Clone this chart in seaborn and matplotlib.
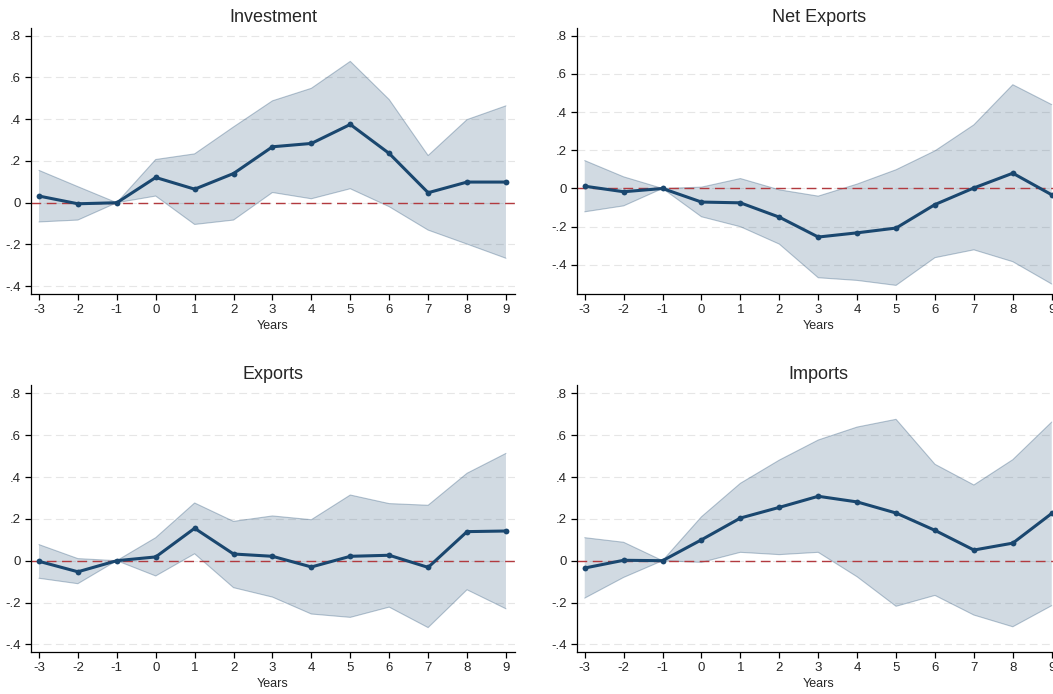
import numpy as np
import pandas as pd
import matplotlib
matplotlib.use("Agg")
import matplotlib.pyplot as plt
import seaborn as sns

# event-study estimates with confidence bands
years = [-3, -2, -1, 0, 1, 2, 3, 4, 5, 6, 7, 8, 9]

investment = [0.032, -0.005, 0.0, 0.121, 0.065, 0.140, 0.268, 0.284, 0.375, 0.236, 0.048, 0.099, 0.099]
investment_hi = [0.155, 0.077, 0.0, 0.207, 0.234, 0.363, 0.488, 0.548, 0.677, 0.494, 0.226, 0.398, 0.464]
investment_lo = [-0.092, -0.083, 0.0, 0.032, -0.104, -0.083, 0.049, 0.019, 0.067, -0.019, -0.131, -0.198, -0.266]

net_exports = [0.012, -0.017, 0.0, -0.071, -0.075, -0.150, -0.254, -0.232, -0.207, -0.084, 0.003, 0.080, -0.033]
net_exports_hi = [0.146, 0.061, 0.0, 0.007, 0.052, -0.007, -0.040, 0.023, 0.098, 0.197, 0.333, 0.543, 0.439]
net_exports_lo = [-0.122, -0.091, 0.0, -0.148, -0.200, -0.291, -0.467, -0.481, -0.507, -0.362, -0.321, -0.383, -0.500]

exports = [-0.003, -0.053, 0.0, 0.018, 0.155, 0.032, 0.021, -0.030, 0.021, 0.026, -0.032, 0.139, 0.142]
exports_hi = [0.077, 0.010, 0.0, 0.110, 0.276, 0.188, 0.214, 0.196, 0.314, 0.273, 0.265, 0.418, 0.513]
exports_lo = [-0.084, -0.110, 0.0, -0.073, 0.033, -0.129, -0.174, -0.255, -0.271, -0.222, -0.320, -0.139, -0.230]

imports = [-0.035, 0.002, 0.0, 0.100, 0.204, 0.255, 0.308, 0.281, 0.228, 0.145, 0.051, 0.084, 0.226]
imports_hi = [0.110, 0.088, 0.0, 0.210, 0.370, 0.481, 0.577, 0.639, 0.676, 0.461, 0.362, 0.483, 0.663]
imports_lo = [-0.179, -0.080, 0.0, -0.008, 0.040, 0.029, 0.040, -0.077, -0.218, -0.166, -0.260, -0.316, -0.215]

y_ticks = [-0.4, -0.2, 0.0, 0.2, 0.4, 0.6, 0.8]
y_ticklabels = ['-.4', '-.2', '0', '.2', '.4', '.6', '.8']

panels = [
    ('Investment', investment, investment_lo, investment_hi),
    ('Net Exports', net_exports, net_exports_lo, net_exports_hi),
    ('Exports', exports, exports_lo, exports_hi),
    ('Imports', imports, imports_lo, imports_hi),
]

sns.set_style("ticks")
plt.rcParams['font.family'] = ['Liberation Sans', 'DejaVu Sans']

navy = '#1a476f'
red = '#b23a3f'

fig = plt.figure(figsize=(10.53, 6.94), dpi=100)
# axes boxes in figure fractions; right column runs past the figure edge like the source
boxes = [
    [0.0294, 0.5764, 0.4596, 0.3833],
    [0.5477, 0.5764, 0.4596, 0.3833],
    [0.0294, 0.0601, 0.4596, 0.3851],
    [0.5477, 0.0601, 0.4596, 0.3851],
]
ylims = [(-0.437, 0.837), (-0.552, 0.84), (-0.438, 0.84), (-0.438, 0.84)]

for (title, est, lo, hi), box, ylim in zip(panels, boxes, ylims):
    ax = fig.add_axes(box)
    df = pd.DataFrame({'year': years, 'est': est, 'lo': lo, 'hi': hi})

    for yt in y_ticks:
        ax.axhline(yt, color='#e6e6e6', lw=0.8, ls=(0, (7, 4)), zorder=0)

    ax.fill_between(df['year'], df['lo'], df['hi'], facecolor=navy, alpha=0.2,
                    edgecolor='none', zorder=1)
    ax.plot(df['year'], df['hi'], color=navy, alpha=0.3, lw=0.8, zorder=1)
    ax.plot(df['year'], df['lo'], color=navy, alpha=0.3, lw=0.8, zorder=1)

    ax.axhline(0, color=red, lw=1.0, ls=(0, (7, 4)), zorder=2)

    sns.lineplot(data=df, x='year', y='est', ax=ax, color=navy, lw=2.2,
                 marker='o', markersize=4.2, markeredgewidth=0, zorder=3)

    ax.set_xlim(-3.206, 9.23)
    ax.set_ylim(*ylim)
    ax.set_xticks(years)
    ax.set_xticklabels([str(y) for y in years])
    ax.set_yticks(y_ticks)
    ax.set_yticklabels(y_ticklabels)
    ax.tick_params(axis='both', labelsize=9.5, length=4, width=0.9, color='black', pad=3)
    ax.set_xlabel('Years', fontsize=9, labelpad=3)
    ax.set_ylabel('')
    ax.set_title(title, fontsize=13, pad=4)
    for side in ['top', 'right']:
        ax.spines[side].set_visible(False)
    for side in ['left', 'bottom']:
        ax.spines[side].set_color('black')
        ax.spines[side].set_linewidth(0.9)

fig.savefig('out.png', dpi=100)
